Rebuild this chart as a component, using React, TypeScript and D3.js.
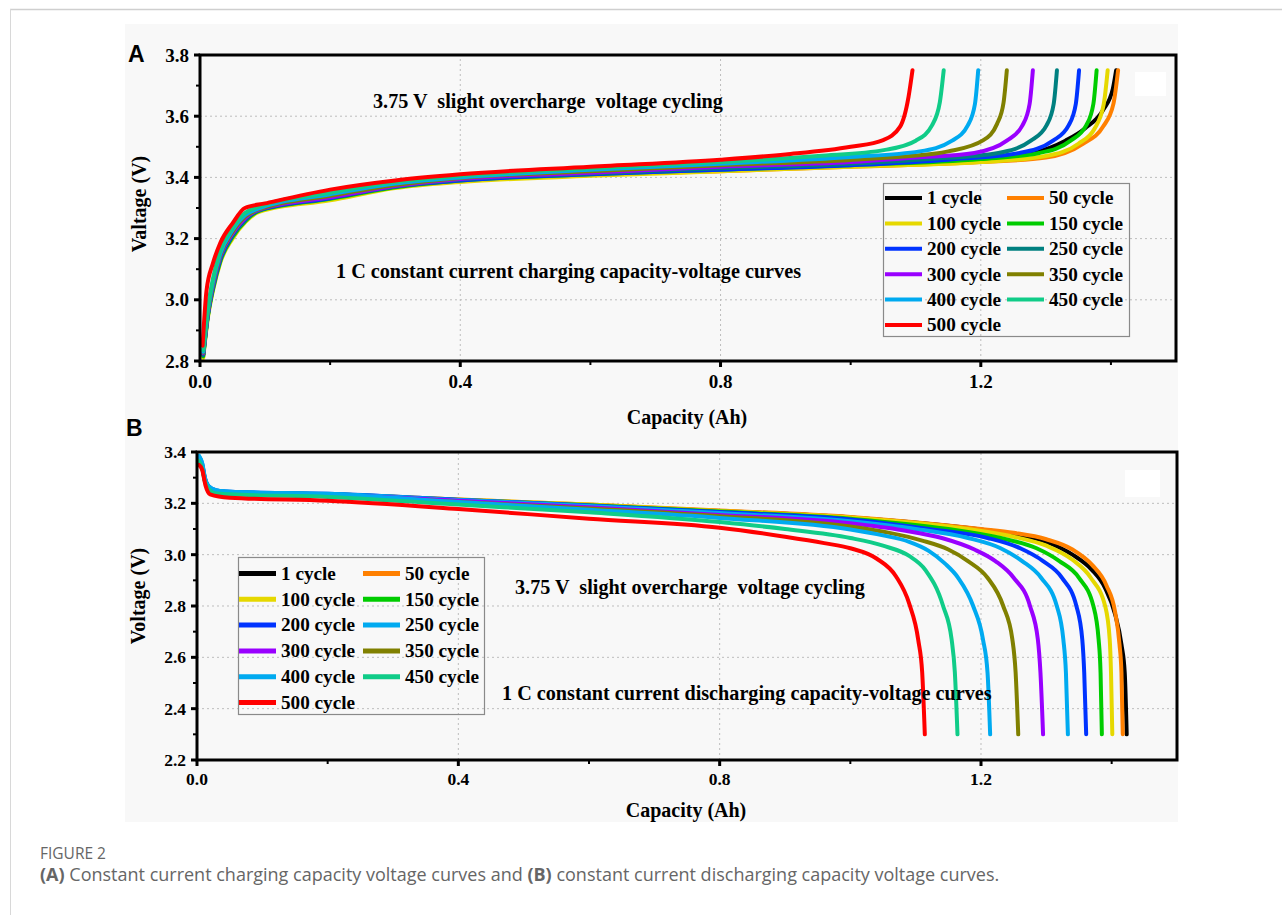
import React, { useEffect, useRef } from 'react';
import * as d3 from 'd3';

type Pt = [number, number];

// legend labels, in the order the series are drawn
const cycleLabels = ['1 cycle', '50 cycle', '100 cycle', '150 cycle', '200 cycle', '250 cycle',
  '300 cycle', '350 cycle', '400 cycle', '450 cycle', '500 cycle'];

const chargeColors = ['#000000', '#ff8000', '#e6d800', '#00cc00', '#0033ff', '#008080',
  '#9900ff', '#808000', '#00aaf0', '#10cc88', '#ff0000'];
const dischargeColors = ['#000000', '#ff8000', '#e6d800', '#00cc00', '#0033ff', '#00aaf0',
  '#9900ff', '#808000', '#00aaf0', '#10cc88', '#ff0000'];

const xTicks = [0, 0.4, 0.8, 1.2];
const xMinor = [0.2, 0.6, 1.0, 1.4];
const yTicksA = [2.8, 3.0, 3.2, 3.4, 3.6, 3.8];
const yMinorA = [2.9, 3.1, 3.3, 3.5, 3.7];
const yTicksB = [2.2, 2.4, 2.6, 2.8, 3.0, 3.2, 3.4];
const yMinorB = [2.3, 2.5, 2.7, 2.9, 3.1, 3.3];

// (A) charging curves: [capacity Ah, voltage V]
const charge1: Pt[] = [[0.005, 2.82], [0.012, 2.95], [0.02, 3.04], [0.031, 3.13], [0.05, 3.21], [0.07, 3.26], [0.09, 3.29], [0.2, 3.33], [0.3, 3.37], [0.4, 3.39], [0.6, 3.41], [0.8, 3.425], [1.0, 3.44], [1.2, 3.46], [1.28, 3.48], [1.33, 3.52], [1.36, 3.56], [1.388, 3.62], [1.403, 3.69], [1.408, 3.75]];
const charge50: Pt[] = [[0.005, 2.82], [0.012, 2.95], [0.02, 3.04], [0.031, 3.13], [0.05, 3.21], [0.07, 3.26], [0.09, 3.29], [0.2, 3.33], [0.3, 3.37], [0.4, 3.39], [0.6, 3.41], [0.8, 3.42], [1.0, 3.435], [1.2, 3.45], [1.3, 3.465], [1.357, 3.51], [1.388, 3.566], [1.404, 3.642], [1.411, 3.75]];
const charge100: Pt[] = [[0.005, 2.81], [0.012, 2.94], [0.02, 3.03], [0.031, 3.12], [0.05, 3.2], [0.07, 3.255], [0.092, 3.288], [0.2, 3.325], [0.3, 3.365], [0.4, 3.385], [0.6, 3.405], [0.8, 3.42], [1.0, 3.435], [1.2, 3.45], [1.3, 3.47], [1.35, 3.51], [1.375, 3.56], [1.389, 3.64], [1.395, 3.75]];
const charge150: Pt[] = [[0.005, 2.815], [0.012, 2.945], [0.02, 3.035], [0.031, 3.125], [0.05, 3.205], [0.07, 3.258], [0.09, 3.29], [0.2, 3.33], [0.3, 3.368], [0.4, 3.39], [0.6, 3.41], [0.8, 3.425], [1.0, 3.44], [1.2, 3.46], [1.29, 3.48], [1.338, 3.52], [1.362, 3.57], [1.373, 3.64], [1.378, 3.75]];
const charge200: Pt[] = [[0.005, 2.82], [0.012, 2.95], [0.02, 3.04], [0.031, 3.13], [0.05, 3.21], [0.07, 3.262], [0.09, 3.292], [0.2, 3.332], [0.3, 3.37], [0.4, 3.39], [0.6, 3.41], [0.8, 3.425], [1.0, 3.44], [1.15, 3.458], [1.26, 3.48], [1.311, 3.52], [1.335, 3.57], [1.346, 3.64], [1.351, 3.75]];
const charge250: Pt[] = [[0.005, 2.822], [0.012, 2.952], [0.02, 3.045], [0.031, 3.135], [0.05, 3.213], [0.07, 3.265], [0.09, 3.293], [0.2, 3.335], [0.3, 3.37], [0.4, 3.393], [0.6, 3.413], [0.8, 3.43], [1.0, 3.445], [1.12, 3.46], [1.227, 3.48], [1.277, 3.52], [1.301, 3.57], [1.312, 3.64], [1.317, 3.75]];
const charge300: Pt[] = [[0.005, 2.825], [0.012, 2.955], [0.02, 3.05], [0.031, 3.14], [0.05, 3.217], [0.07, 3.268], [0.09, 3.294], [0.2, 3.335], [0.3, 3.372], [0.4, 3.395], [0.6, 3.415], [0.8, 3.435], [1.0, 3.45], [1.1, 3.465], [1.19, 3.48], [1.24, 3.52], [1.264, 3.57], [1.275, 3.64], [1.28, 3.75]];
const charge350: Pt[] = [[0.005, 2.828], [0.012, 2.96], [0.02, 3.055], [0.031, 3.145], [0.05, 3.222], [0.07, 3.273], [0.09, 3.296], [0.2, 3.34], [0.3, 3.375], [0.4, 3.398], [0.6, 3.42], [0.8, 3.44], [1.0, 3.457], [1.08, 3.468], [1.15, 3.485], [1.204, 3.522], [1.225, 3.575], [1.235, 3.645], [1.24, 3.75]];
const charge400: Pt[] = [[0.005, 2.83], [0.012, 2.965], [0.02, 3.06], [0.031, 3.15], [0.05, 3.228], [0.07, 3.278], [0.088, 3.297], [0.2, 3.345], [0.3, 3.38], [0.4, 3.4], [0.6, 3.425], [0.8, 3.445], [1.0, 3.467], [1.106, 3.485], [1.156, 3.52], [1.18, 3.57], [1.191, 3.64], [1.196, 3.75]];
const charge450: Pt[] = [[0.005, 2.835], [0.012, 2.97], [0.02, 3.07], [0.031, 3.16], [0.05, 3.235], [0.07, 3.285], [0.085, 3.3], [0.2, 3.35], [0.3, 3.385], [0.4, 3.405], [0.6, 3.43], [0.8, 3.45], [0.95, 3.47], [1.053, 3.49], [1.1, 3.52], [1.125, 3.57], [1.137, 3.645], [1.143, 3.75]];
const charge500: Pt[] = [[0.004, 2.85], [0.01, 3.03], [0.02, 3.12], [0.031, 3.185], [0.05, 3.25], [0.069, 3.3], [0.1, 3.315], [0.2, 3.36], [0.3, 3.39], [0.4, 3.41], [0.6, 3.435], [0.8, 3.458], [0.9, 3.475], [1.0, 3.5], [1.05, 3.522], [1.076, 3.566], [1.089, 3.664], [1.095, 3.75]];

// (B) discharging curves: [capacity Ah, voltage V]
const discharge1: Pt[] = [[0.003, 3.37], [0.008, 3.34], [0.012, 3.29], [0.018, 3.262], [0.03, 3.245], [0.05, 3.24], [0.2, 3.232], [0.4, 3.212], [0.6, 3.192], [0.8, 3.17], [1.0, 3.145], [1.2, 3.098], [1.25, 3.08], [1.3, 3.05], [1.34, 3.0], [1.37, 2.94], [1.39, 2.87], [1.405, 2.77], [1.415, 2.65], [1.42, 2.54], [1.423, 2.3]];
const discharge50: Pt[] = [[0.003, 3.37], [0.008, 3.34], [0.012, 3.29], [0.018, 3.263], [0.03, 3.247], [0.05, 3.243], [0.2, 3.235], [0.4, 3.215], [0.6, 3.195], [0.8, 3.172], [1.0, 3.147], [1.2, 3.1], [1.25, 3.085], [1.3, 3.06], [1.34, 3.02], [1.37, 2.96], [1.392, 2.88], [1.405, 2.78], [1.412, 2.65], [1.415, 2.54], [1.417, 2.3]];
const discharge100: Pt[] = [[0.003, 3.375], [0.008, 3.345], [0.012, 3.295], [0.018, 3.263], [0.03, 3.247], [0.05, 3.243], [0.2, 3.235], [0.4, 3.215], [0.6, 3.195], [0.8, 3.17], [1.0, 3.145], [1.18, 3.1], [1.25, 3.07], [1.3, 3.035], [1.34, 2.98], [1.368, 2.91], [1.39, 2.8], [1.397, 2.67], [1.399, 2.54], [1.401, 2.3]];
const discharge150: Pt[] = [[0.003, 3.375], [0.008, 3.345], [0.012, 3.295], [0.018, 3.264], [0.03, 3.248], [0.05, 3.243], [0.2, 3.235], [0.4, 3.213], [0.6, 3.193], [0.8, 3.168], [1.0, 3.14], [1.15, 3.1], [1.23, 3.065], [1.285, 3.025], [1.32, 2.975], [1.35, 2.91], [1.372, 2.8], [1.38, 2.67], [1.383, 2.54], [1.385, 2.3]];
const discharge200: Pt[] = [[0.003, 3.38], [0.008, 3.35], [0.012, 3.3], [0.018, 3.266], [0.03, 3.25], [0.05, 3.245], [0.2, 3.237], [0.4, 3.214], [0.6, 3.192], [0.8, 3.166], [1.0, 3.137], [1.12, 3.1], [1.21, 3.065], [1.26, 3.025], [1.295, 2.975], [1.324, 2.91], [1.346, 2.8], [1.355, 2.67], [1.358, 2.54], [1.361, 2.3]];
const discharge250: Pt[] = [[0.003, 3.385], [0.008, 3.355], [0.012, 3.3], [0.018, 3.266], [0.03, 3.25], [0.05, 3.245], [0.2, 3.237], [0.4, 3.213], [0.6, 3.19], [0.8, 3.162], [1.0, 3.13], [1.1, 3.1], [1.18, 3.065], [1.23, 3.025], [1.263, 2.975], [1.292, 2.91], [1.316, 2.8], [1.326, 2.67], [1.33, 2.54], [1.333, 2.3]];
const discharge300: Pt[] = [[0.003, 3.375], [0.008, 3.345], [0.012, 3.295], [0.018, 3.262], [0.03, 3.245], [0.05, 3.24], [0.2, 3.232], [0.4, 3.21], [0.6, 3.185], [0.8, 3.155], [1.0, 3.122], [1.08, 3.095], [1.14, 3.065], [1.19, 3.02], [1.222, 2.975], [1.25, 2.91], [1.275, 2.8], [1.287, 2.67], [1.291, 2.54], [1.295, 2.3]];
const discharge350: Pt[] = [[0.003, 3.37], [0.008, 3.34], [0.012, 3.29], [0.018, 3.26], [0.03, 3.244], [0.05, 3.24], [0.2, 3.23], [0.4, 3.205], [0.6, 3.18], [0.8, 3.15], [1.0, 3.11], [1.06, 3.085], [1.11, 3.055], [1.15, 3.02], [1.18, 2.975], [1.21, 2.91], [1.234, 2.8], [1.248, 2.67], [1.253, 2.54], [1.257, 2.3]];
const discharge400: Pt[] = [[0.003, 3.385], [0.008, 3.355], [0.012, 3.3], [0.018, 3.266], [0.03, 3.25], [0.05, 3.245], [0.2, 3.235], [0.4, 3.205], [0.6, 3.175], [0.8, 3.143], [1.0, 3.098], [1.05, 3.075], [1.09, 3.05], [1.12, 3.015], [1.145, 2.965], [1.165, 2.91], [1.188, 2.8], [1.203, 2.67], [1.21, 2.54], [1.214, 2.3]];
const discharge450: Pt[] = [[0.003, 3.365], [0.008, 3.335], [0.012, 3.285], [0.018, 3.255], [0.03, 3.238], [0.05, 3.235], [0.2, 3.225], [0.4, 3.195], [0.6, 3.165], [0.8, 3.127], [0.9, 3.1], [1.0, 3.065], [1.05, 3.035], [1.09, 2.995], [1.115, 2.94], [1.142, 2.8], [1.155, 2.67], [1.16, 2.54], [1.164, 2.3]];
const discharge500: Pt[] = [[0.003, 3.35], [0.008, 3.33], [0.013, 3.27], [0.02, 3.235], [0.05, 3.222], [0.2, 3.21], [0.4, 3.178], [0.6, 3.14], [0.8, 3.105], [0.9, 3.07], [0.96, 3.045], [1.0, 3.025], [1.04, 2.985], [1.07, 2.915], [1.09, 2.81], [1.104, 2.667], [1.11, 2.54], [1.114, 2.3]];

const chargeSeries = [charge1, charge50, charge100, charge150, charge200, charge250,
  charge300, charge350, charge400, charge450, charge500];
const dischargeSeries = [discharge1, discharge50, discharge100, discharge150, discharge200, discharge250,
  discharge300, discharge350, discharge400, discharge450, discharge500];

const SERIF = "'Liberation Serif', 'Times New Roman', serif";
const SANS = "'Liberation Sans', Arial, sans-serif";
const CAPTION = "'Open Sans', 'Noto Sans', sans-serif";

const App = () => {
  const svgRef = useRef<SVGSVGElement>(null);

  useEffect(() => {
    const width = 1282;
    const height = 915;
    const svg = d3.select(svgRef.current);
    svg.selectAll('*').remove();
    svg.attr('viewBox', [0, 0, width, height]);

    // page frame and figure backdrop
    svg.append('rect').attr('width', width).attr('height', height).attr('fill', '#ffffff');
    svg.append('line').attr('x1', 10).attr('x2', width).attr('y1', 9.5).attr('y2', 9.5)
      .attr('stroke', '#cfcfcf').attr('stroke-width', 1.5);
    svg.append('line').attr('x1', 10.5).attr('x2', 10.5).attr('y1', 9).attr('y2', height)
      .attr('stroke', '#d8d8d8').attr('stroke-width', 1);
    svg.append('rect').attr('x', 125).attr('y', 24).attr('width', 1053).attr('height', 798)
      .attr('fill', '#f8f8f8');

    const drawPanel = (cfg) => {
      const { x, y, series, colors, yTicks, yMinor, tickFont, xLabelY, letter, letterPos,
        yTitle, yTitlePos, xTitleY, notes, legend, whiteBox } = cfg;
      const g = svg.append('g');
      const [x0, x1] = x.range();
      const [y0, y1] = y.range();

      // white patch left in the source figure
      g.append('rect').attr('x', whiteBox[0]).attr('y', whiteBox[1])
        .attr('width', whiteBox[2]).attr('height', whiteBox[3]).attr('fill', '#ffffff');

      // dotted grid
      g.append('g').selectAll('line').data(yTicks.slice(1, -1)).join('line')
        .attr('x1', x0).attr('x2', x1).attr('y1', d => y(d)).attr('y2', d => y(d))
        .attr('stroke', '#bdbdbd').attr('stroke-width', 1).attr('stroke-dasharray', '2,3');
      g.append('g').selectAll('line').data(xTicks.slice(1)).join('line')
        .attr('x1', d => x(d)).attr('x2', d => x(d)).attr('y1', y0).attr('y2', y1)
        .attr('stroke', '#bdbdbd').attr('stroke-width', 1).attr('stroke-dasharray', '2,3');

      // curves
      const line = d3.line<Pt>().x(d => x(d[0])).y(d => y(d[1])).curve(d3.curveMonotoneX);
      g.append('g').selectAll('path').data(series).join('path')
        .attr('d', d => line(d))
        .attr('fill', 'none')
        .attr('stroke', (d, i) => colors[i])
        .attr('stroke-width', 4)
        .attr('stroke-linejoin', 'round')
        .attr('stroke-linecap', 'round');

      // frame
      g.append('rect').attr('x', x0).attr('y', y1).attr('width', x1 - x0).attr('height', y0 - y1)
        .attr('fill', 'none').attr('stroke', '#000').attr('stroke-width', 3);

      // ticks
      const tk = g.append('g').attr('stroke', '#000');
      tk.selectAll('.xt').data(xTicks).join('line').attr('class', 'xt')
        .attr('x1', d => x(d)).attr('x2', d => x(d)).attr('y1', y0).attr('y2', y0 + 6).attr('stroke-width', 3);
      tk.selectAll('.xm').data(xMinor).join('line').attr('class', 'xm')
        .attr('x1', d => x(d)).attr('x2', d => x(d)).attr('y1', y0).attr('y2', y0 + 4).attr('stroke-width', 2);
      tk.selectAll('.yt').data(yTicks).join('line').attr('class', 'yt')
        .attr('x1', x0 - 6).attr('x2', x0).attr('y1', d => y(d)).attr('y2', d => y(d)).attr('stroke-width', 3);
      tk.selectAll('.ym').data(yMinor).join('line').attr('class', 'ym')
        .attr('x1', x0 - 4).attr('x2', x0).attr('y1', d => y(d)).attr('y2', d => y(d)).attr('stroke-width', 2);

      const labels = g.append('g').attr('font-family', SERIF).attr('font-weight', 'bold')
        .attr('font-size', tickFont).attr('fill', '#000');
      labels.selectAll('.xl').data(xTicks).join('text').attr('class', 'xl')
        .attr('x', d => x(d)).attr('y', xLabelY).attr('text-anchor', 'middle')
        .text(d => d3.format('.1f')(d));
      labels.selectAll('.yl').data(yTicks).join('text').attr('class', 'yl')
        .attr('x', x0 - 11).attr('y', d => y(d)).attr('dy', '0.35em').attr('text-anchor', 'end')
        .text(d => d3.format('.1f')(d));

      // axis titles
      g.append('text').attr('x', (x0 + x1) / 2 - 1).attr('y', xTitleY).attr('text-anchor', 'middle')
        .attr('font-family', SERIF).attr('font-weight', 'bold').attr('font-size', 20)
        .text('Capacity (Ah)');
      g.append('text')
        .attr('transform', `translate(${yTitlePos[0]},${yTitlePos[1]}) rotate(-90)`)
        .attr('text-anchor', 'middle')
        .attr('font-family', SERIF).attr('font-weight', 'bold').attr('font-size', 20)
        .text(yTitle);

      // panel letter
      g.append('text').attr('x', letterPos[0]).attr('y', letterPos[1])
        .attr('font-family', SANS).attr('font-weight', 'bold').attr('font-size', 23)
        .text(letter);

      // annotations
      g.append('g').selectAll('text').data(notes).join('text')
        .attr('x', d => d[0]).attr('y', d => d[1])
        .attr('font-family', SERIF).attr('font-weight', 'bold').attr('font-size', 20.2)
        .style('white-space', 'pre')
        .text(d => d[2]);

      // legend
      const lg = g.append('g');
      lg.append('rect').attr('x', legend.x).attr('y', legend.y).attr('width', legend.w).attr('height', legend.h)
        .attr('fill', 'none').attr('stroke', '#8a8a8a').attr('stroke-width', 1.2);
      const items = lg.selectAll('g').data(cycleLabels).join('g')
        .attr('transform', (d, i) => `translate(${legend.colX[i % 2]},${legend.rowY0 + Math.floor(i / 2) * legend.rowStep})`);
      items.append('line').attr('x1', 0).attr('x2', 37).attr('y1', 0).attr('y2', 0)
        .attr('stroke', (d, i) => colors[i]).attr('stroke-width', legend.sw);
      items.append('text').attr('x', 42).attr('y', 0).attr('dy', '0.33em')
        .attr('font-family', SERIF).attr('font-weight', 'bold').attr('font-size', 19.2)
        .text(d => d);
    };

    drawPanel({
      x: d3.scaleLinear().domain([0, 1.5]).range([200, 1176]),
      y: d3.scaleLinear().domain([2.8, 3.8]).range([361, 55]),
      series: chargeSeries,
      colors: chargeColors,
      yTicks: yTicksA,
      yMinor: yMinorA,
      tickFont: 19,
      xLabelY: 388,
      letter: 'A',
      letterPos: [128, 62],
      yTitle: 'Valtage (V)',
      yTitlePos: [146, 204],
      xTitleY: 424,
      notes: [[373, 108, '3.75 V  slight overcharge  voltage cycling'],
        [336, 278, '1 C constant current charging capacity-voltage curves']],
      legend: { x: 883.5, y: 183.5, w: 246, h: 153, colX: [885, 1007], rowY0: 198, rowStep: 25.4, sw: 4 },
      whiteBox: [1135, 72, 31, 24]
    });

    drawPanel({
      x: d3.scaleLinear().domain([0, 1.5]).range([197, 1177]),
      y: d3.scaleLinear().domain([2.2, 3.4]).range([760, 452]),
      series: dischargeSeries,
      colors: dischargeColors,
      yTicks: yTicksB,
      yMinor: yMinorB,
      tickFont: 17.5,
      xLabelY: 785,
      letter: 'B',
      letterPos: [126, 436],
      yTitle: 'Voltage (V)',
      yTitlePos: [145, 596],
      xTitleY: 817,
      notes: [[515, 594, '3.75 V  slight overcharge  voltage cycling'],
        [502, 700, '1 C constant current discharging capacity-voltage curves']],
      legend: { x: 238.5, y: 557.5, w: 246, h: 157, colX: [239, 363], rowY0: 573.5, rowStep: 25.8, sw: 5 },
      whiteBox: [1125, 470, 35, 27]
    });

    // caption
    svg.append('text').attr('x', 40).attr('y', 859)
      .attr('font-family', CAPTION).attr('font-size', 15.5).attr('fill', '#666')
      .text('FIGURE 2');
    const cap = svg.append('text').attr('x', 40).attr('y', 881)
      .attr('font-family', CAPTION).attr('font-size', 18).attr('fill', '#666');
    cap.append('tspan').attr('font-weight', 'bold').text('(A)');
    cap.append('tspan').text(' Constant current charging capacity voltage curves and ');
    cap.append('tspan').attr('font-weight', 'bold').text('(B)');
    cap.append('tspan').text(' constant current discharging capacity voltage curves.');
  }, []);

  return (
    <svg ref={svgRef} width={1282} height={915}
      style={{ position: 'absolute', left: 0, top: 0, display: 'block' }} />
  );
};

export default App;
